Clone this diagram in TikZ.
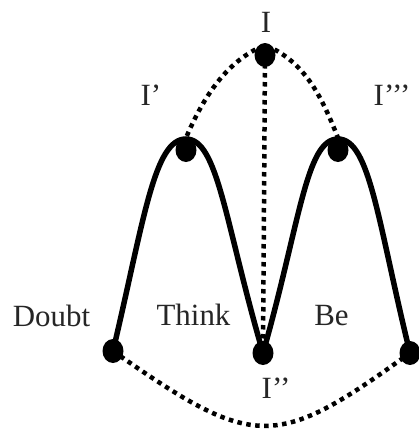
\documentclass[tikz,border=0pt]{standalone}
\usepackage{fontspec}
\setmainfont{Liberation Serif}
\usetikzlibrary{shapes.geometric}
\pgfdeclarelayer{bg}
\pgfsetlayers{bg,main}
\begin{document}
\begin{tikzpicture}[x=1bp,y=-1bp,
  dotnode/.style={ellipse, fill=black, draw=none, minimum width=21bp, minimum height=24bp, inner sep=0pt},
  lbl/.style={anchor=base, inner sep=0pt, text=black!85, font=\fontsize{31}{37}\selectfont},
  solidline/.style={line width=5.5bp, draw=black},
  dotline/.style={line width=4.5bp, dash pattern=on 4.5bp off 4.5bp, draw=black}]
\useasboundingbox (0,0) rectangle (419,432);
% dots
\node[dotnode] (nI) at (265,55) {};
\node[dotnode] (nIp) at (186,150) {};
\node[dotnode] (nIppp) at (338,150) {};
\node[dotnode] (nD) at (113,351) {};
\node[dotnode] (nIpp) at (263,353) {};
\node[dotnode] (nR) at (410,353) {};
\coordinate (a1) at (186,139);
\coordinate (a2) at (338,139);
% labels
\node[lbl] (tI) at (266,32) {I};
\node[lbl] (tIp) at (151,105) {I’};
\node[lbl] (tIppp) at (392,105) {I’’’};
\node[lbl] (tIpp) at (276,398) {I’’};
\node[lbl] (tD) at (51.5,326) {Doubt};
\node[lbl] (tT) at (193.5,325) {Think};
\node[lbl] (tB) at (331.5,325) {Be};
\begin{pgfonlayer}{bg}
\fill[white] (0,0) rectangle (419,432);
% solid arches
\draw[solidline] (nD.center) .. controls (144,220) and (154,139) .. (a1)
  .. controls (218,139) and (225,223) .. (nIpp.center);
\draw[solidline] (nIpp.center) .. controls (300,223) and (306,139) .. (a2)
  .. controls (370,139) and (378,223) .. (nR.center);
% dotted connectors
\draw[dotline] (nI.150) .. controls (221,68) and (201,103) .. (nIp.north);
\draw[dotline] (nI.30) .. controls (309,68) and (324,103) .. (nIppp.north);
\draw[dotline] (nI.center) -- (nIpp.center);
\draw[dotline] (nD.center) .. controls (255,450.5) and (275,450.5) .. (nR.center);
\end{pgfonlayer}
\end{tikzpicture}
\end{document}
